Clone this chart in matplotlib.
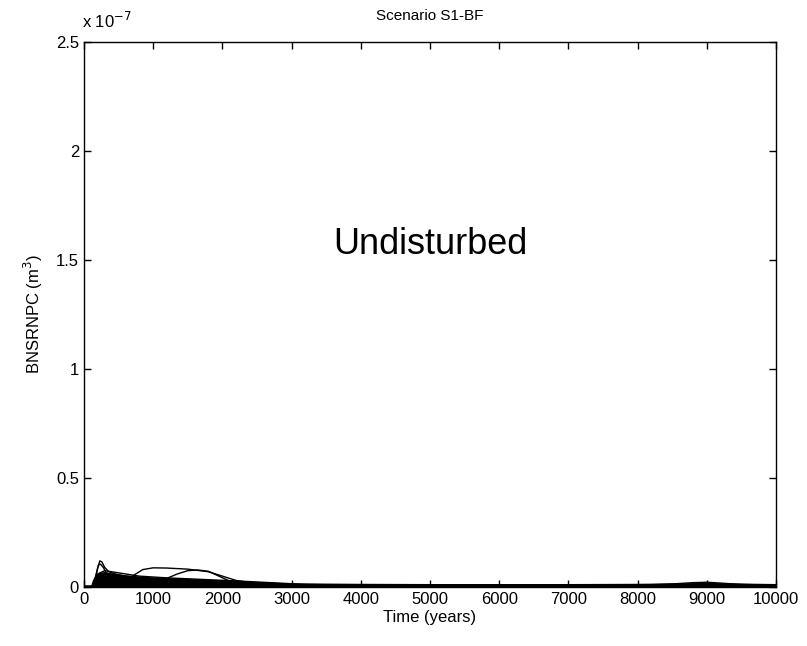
import numpy as np
import matplotlib.pyplot as plt

plt.switch_backend('agg')
plt.rcParams['font.family'] = ['Liberation Sans', 'DejaVu Sans']

# values in units of 1e-7 m^3, time in years
SCALE = 1e-7

# upper edge of the dense bundle of realizations
mass_t = [0, 100, 130, 170, 220, 300, 400, 550, 700, 900, 1200, 1500, 2000, 2300,
          2600, 3000, 4000, 5000, 6000, 7000, 8000, 8500, 9000, 9500, 10000]
mass_v = [0, 0, 0.03, 0.055, 0.065, 0.068, 0.062, 0.055, 0.05, 0.045, 0.04, 0.036,
          0.03, 0.025, 0.02, 0.016, 0.014, 0.013, 0.013, 0.013, 0.014, 0.016,
          0.018, 0.015, 0.013]

# individual outlying realizations
c1_t = [0, 120, 160, 200, 230, 260, 300, 360, 450, 600, 900, 1300, 2000, 3000, 5000, 10000]
c1_v = [0, 0, 0.03, 0.09, 0.12, 0.115, 0.09, 0.07, 0.06, 0.05, 0.04, 0.035, 0.02, 0.01, 0.006, 0.003]

c2_t = [0, 130, 170, 210, 240, 280, 320, 400, 600, 1000, 1600, 2500, 4000, 10000]
c2_v = [0, 0, 0.05, 0.1, 0.105, 0.09, 0.065, 0.05, 0.04, 0.03, 0.02, 0.01, 0.006, 0.003]

c3_t = [0, 150, 300, 500, 650, 750, 850, 1000, 1200, 1500, 1800, 2000, 2200,
        2500, 3000, 4000, 10000]
c3_v = [0, 0, 0.045, 0.04, 0.04, 0.06, 0.08, 0.088, 0.087, 0.082, 0.07, 0.05,
        0.03, 0.015, 0.008, 0.005, 0.003]

c4_t = [0, 150, 400, 700, 1000, 1200, 1350, 1500, 1650, 1800, 1950, 2100,
        2400, 2800, 3500, 10000]
c4_v = [0, 0, 0.04, 0.03, 0.028, 0.04, 0.06, 0.075, 0.078, 0.072, 0.05, 0.028,
        0.014, 0.009, 0.005, 0.002]

c5_t = [0, 120, 200, 300, 500, 800, 1200, 1700, 2200, 2700, 3200, 4000, 10000]
c5_v = [0, 0, 0.06, 0.075, 0.065, 0.05, 0.042, 0.035, 0.028, 0.02, 0.012, 0.008, 0.004]

c6_t = [0, 8000, 8500, 8800, 9000, 9200, 9500, 10000]
c6_v = [0.005, 0.008, 0.014, 0.02, 0.022, 0.018, 0.012, 0.008]

curves = [(c1_t, c1_v), (c2_t, c2_v), (c3_t, c3_v), (c4_t, c4_v), (c5_t, c5_v), (c6_t, c6_v)]

fig = plt.figure(figsize=(8.07, 6.46), dpi=100)
ax = fig.add_axes([0.104, 0.0913, 0.8576, 0.8437])

ax.fill_between(mass_t, 0, np.array(mass_v) * SCALE, color='black', linewidth=1)
for t, v in curves:
    ax.plot(t, np.array(v) * SCALE, color='black', linewidth=1)

ax.set_xlim(0, 10000)
ax.set_ylim(0, 2.5e-7)
ax.set_xticks(np.arange(0, 10001, 1000))
ax.set_yticks(np.arange(0, 2.51e-7, 0.5e-7))
ax.set_yticklabels(['0', '0.5', '1', '1.5', '2', '2.5'])
ax.tick_params(direction='in', top=True, right=True, labelsize=12, length=5, width=1)
for s in ax.spines.values():
    s.set_linewidth(1)

ax.set_xlabel('Time (years)', fontsize=12, labelpad=2)
ax.set_ylabel('BNSRNPC (m$^3$)', fontsize=12, labelpad=8)
ax.set_title('Scenario S1-BF', fontsize=11, pad=16)
ax.text(-0.003, 1.02, r'x 10$^{-7}$', transform=ax.transAxes, fontsize=12, ha='left', va='bottom')
ax.text(5000, 1.57e-7, 'Undisturbed', fontsize=26, ha='center', va='center')

fig.savefig('out.png', dpi=100)
